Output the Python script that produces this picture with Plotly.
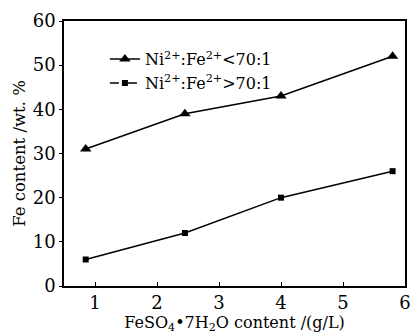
import plotly.graph_objects as go

x_vals = [0.85, 2.45, 4.0, 5.8]
low_ratio = [31, 39, 43, 52]
high_ratio = [6, 12, 20, 26]
name_low = "Ni<sup>2+</sup>:Fe<sup>2+</sup>&lt;70:1"
name_high = "Ni<sup>2+</sup>:Fe<sup>2+</sup>&gt;70:1"

FONT = "DejaVu Serif"
fig = go.Figure()
fig.add_trace(go.Scatter(x=x_vals, y=low_ratio, mode="lines+markers",
                         line=dict(color="black", width=1.5),
                         marker=dict(symbol="triangle-up", size=10, color="black"),
                         showlegend=False))
fig.add_trace(go.Scatter(x=x_vals, y=high_ratio, mode="lines+markers",
                         line=dict(color="black", width=1.5),
                         marker=dict(symbol="square", size=6, color="black"),
                         showlegend=False))
fig.add_trace(go.Scatter(x=[None], y=[None], mode="lines+markers", name=name_low,
                         line=dict(color="black", width=1.5),
                         marker=dict(symbol="triangle-up", size=10, color="black")))
fig.add_trace(go.Scatter(x=[None], y=[None], mode="lines+markers", name=name_high,
                         line=dict(color="black", width=1.5, dash="dash"),
                         marker=dict(symbol="square", size=6, color="black")))

fig.update_layout(
    width=417, height=334,
    margin=dict(l=64, r=6, t=21, b=48),
    paper_bgcolor="white", plot_bgcolor="white",
    font=dict(family=FONT, size=17, color="black"),
    legend=dict(x=0.12, y=0.92, xanchor="left", yanchor="top",
                bgcolor="rgba(0,0,0,0)", font=dict(family=FONT, size=16), itemwidth=30),
    xaxis=dict(range=[0.5, 6], tickvals=[1, 2, 3, 4, 5, 6], showline=True,
               linecolor="black", linewidth=1.5, mirror=True, ticks="inside",
               ticklen=4, tickcolor="black", showgrid=False, zeroline=False,
               tickfont=dict(family=FONT, size=18, color="black"),
               title=dict(text="FeSO<sub>4</sub>•7H<sub>2</sub>O content /(g/L)",
                          font=dict(family=FONT, size=16), standoff=2)),
    yaxis=dict(range=[0, 60], tickvals=[0, 10, 20, 30, 40, 50, 60], showline=True,
               linecolor="black", linewidth=1.5, mirror=True, ticks="outside",
               ticklen=3, tickcolor="black", showgrid=False, zeroline=False,
               tickfont=dict(family=FONT, size=18, color="black"),
               title=dict(text="Fe content /wt. %", font=dict(family=FONT, size=16.5), standoff=3)),
)
fig.write_html("out.html")
